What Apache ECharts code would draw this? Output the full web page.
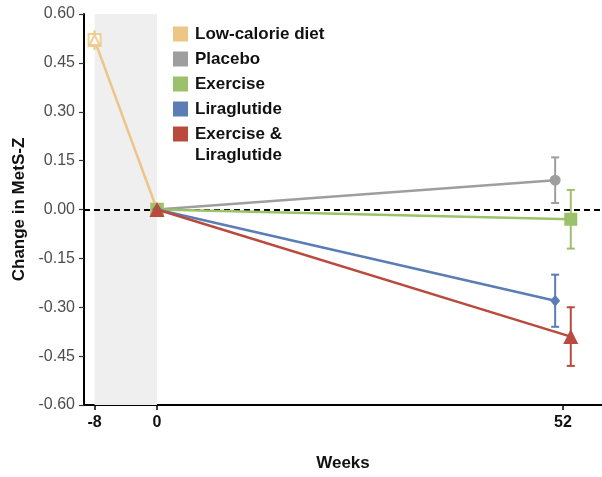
<!DOCTYPE html>
<html><head><meta charset="utf-8">
<script src="https://cdn.jsdelivr.net/npm/echarts@6/dist/echarts.min.js"></script>
<style>html,body{margin:0;padding:0;background:#fff}#c{width:602px;height:477px}</style>
</head><body><div id="c"></div>
<script>
// ---- data ----
const seriesNames = ['Low-calorie diet', 'Placebo', 'Exercise', 'Liraglutide', 'Exercise & Liraglutide'];
const seriesColors = ['#EDC585', '#9E9E9E', '#9BC16A', '#5B7CB4', '#B84B3D'];
const xTickValues = [-8, 0, 52];
const runInPhase = [-8, 0];
// plotted week positions (52-week points dodged slightly left/right as in the figure)
const lowCalWeeks = [-8, 0];
const lowCalValues = [0.52, 0];
const lowCalLow = [0.49, null];
const lowCalHigh = [0.55, null];
const placeboWeeks = [0, 51];
const placeboValues = [0, 0.09];
const placeboLow = [null, 0.02];
const placeboHigh = [null, 0.16];
const exerciseWeeks = [0, 53];
const exerciseValues = [0, -0.03];
const exerciseLow = [null, -0.12];
const exerciseHigh = [null, 0.06];
const liraWeeks = [0, 51];
const liraValues = [0, -0.28];
const liraLow = [null, -0.36];
const liraHigh = [null, -0.20];
const comboWeeks = [0, 53];
const comboValues = [0, -0.39];
const comboLow = [null, -0.48];
const comboHigh = [null, -0.30];

const FONT = 'Liberation Sans, Arial, Helvetica, sans-serif';

function pairs(xs, ys) { return xs.map((x, i) => [x, ys[i]]); }
function errData(xs, lo, hi) {
  const out = [];
  xs.forEach((x, i) => { if (lo[i] != null && hi[i] != null) out.push([x, lo[i], hi[i]]); });
  return out;
}
function errSeries(xs, lo, hi, color, capHalf) {
  return {
    type: 'custom', silent: true, z: 3,
    data: errData(xs, lo, hi),
    encode: { x: 0, y: [1, 2] },
    renderItem: function (params, api) {
      const x = api.value(0);
      const a = api.coord([x, api.value(1)]);
      const b = api.coord([x, api.value(2)]);
      const st = { stroke: color, lineWidth: 2 };
      const ch = [{ type: 'line', shape: { x1: a[0], y1: a[1], x2: b[0], y2: b[1] }, style: st }];
      if (capHalf > 0) {
        ch.push({ type: 'line', shape: { x1: a[0] - capHalf, y1: a[1], x2: a[0] + capHalf, y2: a[1] }, style: st });
        ch.push({ type: 'line', shape: { x1: b[0] - capHalf, y1: b[1], x2: b[0] + capHalf, y2: b[1] }, style: st });
      }
      return { type: 'group', children: ch };
    }
  };
}
function lineSeries(name, xs, ys, color, symbol, size, z) {
  return {
    name: name, type: 'line', data: pairs(xs, ys), z: z,
    symbol: symbol, symbolSize: size, showSymbol: true,
    lineStyle: { color: color, width: 2.5 },
    itemStyle: { color: color, borderWidth: 0 },
    emphasis: { disabled: true }
  };
}

const chart = echarts.init(document.getElementById('c'), null, { renderer: 'canvas' });

const lowCal = lineSeries(seriesNames[0], lowCalWeeks, lowCalValues, seriesColors[0], 'emptyRect', 12, 4);
lowCal.itemStyle = { color: seriesColors[0], borderWidth: 1.5, opacity: 0.85 };
lowCal.markArea = {
  silent: true,
  itemStyle: { color: '#EFEFEF' },
  data: [[{ xAxis: runInPhase[0] }, { xAxis: runInPhase[1] }]]
};
lowCal.markLine = {
  silent: true, symbol: 'none',
  label: { show: false },
  lineStyle: { color: '#000', type: [6, 4], width: 1.8 },
  data: [{ yAxis: 0 }]
};

const lowCalTri = {
  type: 'scatter', data: pairs(lowCalWeeks.slice(0, 1), lowCalValues.slice(0, 1)),
  symbol: 'emptyTriangle', symbolSize: 10, z: 4, silent: true,
  itemStyle: { color: seriesColors[0], borderWidth: 1.2, opacity: 0.85 }
};

const option = {
  animation: false,
  backgroundColor: '#fff',
  grid: { left: 84, right: 0, top: 14, bottom: 67, containLabel: false },
  legend: {
    orient: 'vertical', left: 168, top: 19,
    icon: 'rect', itemWidth: 15, itemHeight: 15, itemGap: 5,
    selectedMode: false,
    textStyle: { fontFamily: FONT, fontWeight: 'bold', fontSize: 17, lineHeight: 20, color: '#111', padding: [0, 0, 0, 2] },
    formatter: function (n) { return n === seriesNames[4] ? 'Exercise &' : n; },
    data: seriesNames.map((n, i) => ({ name: n, itemStyle: { color: seriesColors[i], borderWidth: 0, opacity: 1 } }))
  },
  graphic: [{
    type: 'text', left: 195, top: 147,
    style: { text: 'Liraglutide', font: 'bold 17px ' + FONT, fill: '#111' }
  }],
  xAxis: {
    type: 'value', min: -9.35, max: 57,
    name: 'Weeks', nameLocation: 'middle', nameGap: 50,
    nameTextStyle: { fontFamily: FONT, fontWeight: 'bold', fontSize: 17, color: '#111' },
    axisLine: { show: true, onZero: false, lineStyle: { color: '#000', width: 2 } },
    axisTick: { show: true, length: 5, customValues: xTickValues, lineStyle: { color: '#000', width: 1.5 } },
    axisLabel: { customValues: xTickValues, fontFamily: FONT, fontWeight: 'bold', fontSize: 16, color: '#111', margin: 10 },
    splitLine: { show: false }
  },
  yAxis: {
    type: 'value', min: -0.6, max: 0.6, interval: 0.15,
    name: 'Change in MetS-Z', nameLocation: 'middle', nameGap: 56,
    nameTextStyle: { fontFamily: FONT, fontWeight: 'bold', fontSize: 17, color: '#111' },
    axisLine: { show: true, onZero: false, lineStyle: { color: '#000', width: 2 } },
    axisTick: { show: true, length: 5, lineStyle: { color: '#333', width: 1.2 } },
    axisLabel: { formatter: v => v.toFixed(2), fontFamily: FONT, fontSize: 16, color: '#4D4D4D', margin: 9 },
    splitLine: { show: false }
  },
  series: [
    lowCal,
    lowCalTri,
    errSeries(lowCalWeeks, lowCalLow, lowCalHigh, seriesColors[0], 0),
    lineSeries(seriesNames[1], placeboWeeks, placeboValues, seriesColors[1], 'circle', 11, 5),
    errSeries(placeboWeeks, placeboLow, placeboHigh, seriesColors[1], 4),
    lineSeries(seriesNames[2], exerciseWeeks, exerciseValues, seriesColors[2], 'rect', 13, 6),
    errSeries(exerciseWeeks, exerciseLow, exerciseHigh, seriesColors[2], 4),
    lineSeries(seriesNames[3], liraWeeks, liraValues, seriesColors[3], 'diamond', [10, 12], 7),
    errSeries(liraWeeks, liraLow, liraHigh, seriesColors[3], 4),
    lineSeries(seriesNames[4], comboWeeks, comboValues, seriesColors[4], 'triangle', 15, 8),
    errSeries(comboWeeks, comboLow, comboHigh, seriesColors[4], 4)
  ]
};
chart.setOption(option);
</script>
</body></html>
